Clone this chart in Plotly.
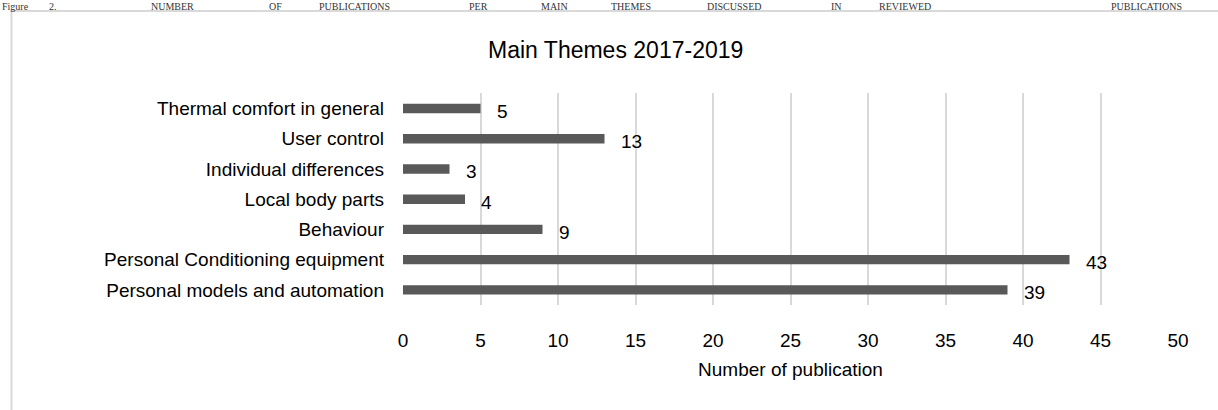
import plotly.graph_objects as go

categories = ["Thermal comfort in general", "User control", "Individual differences",
              "Local body parts", "Behaviour", "Personal Conditioning equipment",
              "Personal models and automation"]
values = [5, 13, 3, 4, 9, 43, 39]
x_ticks = [0, 5, 10, 15, 20, 25, 30, 35, 40, 45, 50]

W, H = 1218, 410
L, R, T, B = 403, 40, 93, 105
PW, PH = W - L - R, H - T - B

def px(x):
    return (x - L) / PW

def py(y):
    return (H - B - y) / PH

fig = go.Figure()
fig.add_trace(go.Bar(
    y=categories, x=values, orientation="h",
    marker=dict(color="#595959", line=dict(width=0)),
    width=0.31, hoverinfo="skip",
))

annotations = []
for c, v in zip(categories, values):
    annotations.append(dict(x=v, y=c, xref="x", yref="y", text=str(v),
                            showarrow=False, xanchor="left", xshift=14, yshift=-3,
                            font=dict(family="Liberation Sans, Arial", size=19, color="#000000")))

annotations.append(dict(x=px(615), y=py(50), xref="paper", yref="paper",
                        text="Main Themes 2017-2019", showarrow=False,
                        xanchor="center", yanchor="middle",
                        font=dict(family="Liberation Sans, Arial", size=23, color="#000000")))

caption_words = [("Figure", 1), ("2.", 48), ("NUMBER", 150), ("OF", 268), ("PUBLICATIONS", 318),
                 ("PER", 468), ("MAIN", 540), ("THEMES", 610), ("DISCUSSED", 706), ("IN", 830),
                 ("REVIEWED", 878), ("PUBLICATIONS", 1110)]
for w, xpos in caption_words:
    annotations.append(dict(x=px(xpos), y=py(0.5), xref="paper", yref="paper", text=w,
                            showarrow=False, xanchor="left", yanchor="top",
                            borderpad=0,
                            font=dict(family="Liberation Serif, Times New Roman", size=10, color="#333333")))

fig.update_layout(
    width=W, height=H,
    margin=dict(l=L, r=R, t=T, b=B),
    paper_bgcolor="white", plot_bgcolor="white",
    showlegend=False,
    bargap=0.69,
    annotations=annotations,
    shapes=[dict(type="rect", xref="paper", yref="paper",
                 x0=px(11.5), x1=px(1240), y0=py(11), y1=py(430),
                 line=dict(color="#d9d9d9", width=2), fillcolor="rgba(0,0,0,0)", layer="below")],
    xaxis=dict(range=[0, 50], tickvals=x_ticks, ticktext=[str(t) for t in x_ticks],
               showgrid=True, gridcolor="#d9d9d9", gridwidth=1.5,
               zeroline=False, showline=False, ticks="", ticklabelstandoff=22,
               tickfont=dict(family="Liberation Sans, Arial", size=19, color="#000000"),
               title=dict(text="Number of publication", standoff=12,
                          font=dict(family="Liberation Sans, Arial", size=19, color="#000000"))),
    yaxis=dict(categoryorder="array", categoryarray=categories, autorange="reversed",
               showgrid=False, zeroline=False, showline=False, ticks="",
               ticklabelstandoff=18,
               tickfont=dict(family="Liberation Sans, Arial", size=19, color="#000000")),
)

fig.write_html("out.html")
